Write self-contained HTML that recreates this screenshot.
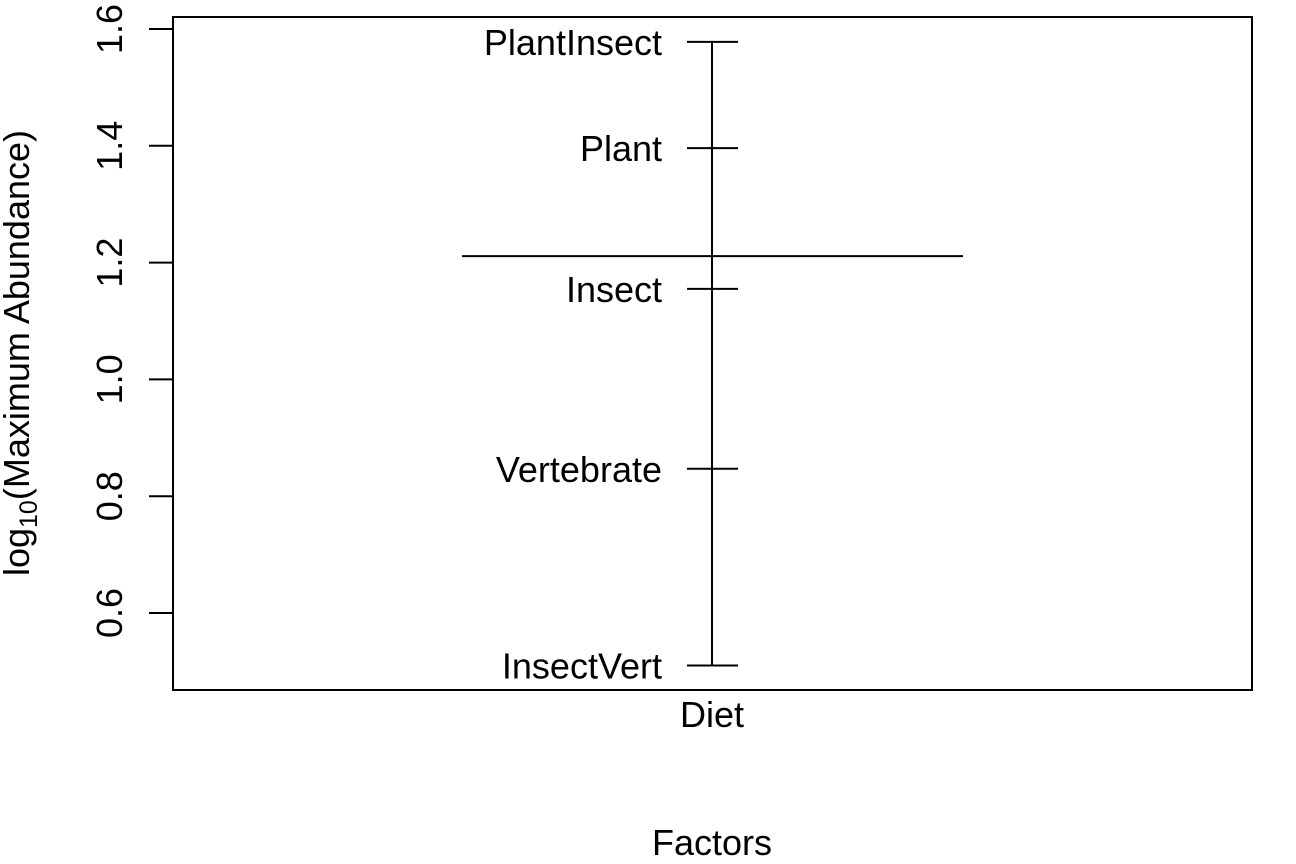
<!DOCTYPE html>
<html><head><meta charset="utf-8"><style>
html,body{margin:0;padding:0;background:#fff;}
svg{display:block;font-family:"Liberation Sans",sans-serif;}
</style></head><body>
<svg id="chart" width="1296" height="864" viewBox="0 0 1296 864"></svg>
<script>
const levels = ["PlantInsect","Plant","Insect","Vertebrate","InsectVert"];
const levelMeans = [1.578,1.396,1.155,0.847,0.510];
const grandMean = [1.211];
const yTicks = [0.6,0.8,1.0,1.2,1.4,1.6];
const yTickLabels = ["0.6","0.8","1.0","1.2","1.4","1.6"];
const factors = ["Diet"];

const NS="http://www.w3.org/2000/svg";
const svg=document.getElementById('chart');
const L=173,R=1252,T=17,B=690;
function y(v){return 29+(1.6-v)*584;}
function x(i){return 712+i*0;}
function mk(tag,attrs,parent){const e=document.createElementNS(NS,tag);for(const k in attrs)e.setAttribute(k,attrs[k]);(parent||svg).appendChild(e);return e;}

const box=mk('rect',{x:L,y:T,width:R-L,height:B-T,fill:'none',stroke:'#000','stroke-width':2});



yTicks.forEach((t,i)=>{
  const ln=mk('line',{x1:L-24,x2:L,y1:y(t),y2:y(t),stroke:'#000','stroke-width':2});
  
  
  const tx=mk('text',{x:0,y:0,'font-size':36,'text-anchor':'middle',transform:`translate(122,${y(t)}) rotate(-90)`});
  tx.textContent=yTickLabels[i];
  
  
});

factors.forEach((f,fi)=>{
  const cx=x(fi);
  const vl=mk('line',{x1:cx,x2:cx,y1:y(Math.max(...levelMeans)),y2:y(Math.min(...levelMeans)),stroke:'#000','stroke-width':2});
  
  
  levels.forEach((lv,i)=>{
    const tk=mk('line',{x1:cx-25,x2:cx+26,y1:y(levelMeans[i]),y2:y(levelMeans[i]),stroke:'#000','stroke-width':2});
    
    
    const tl=mk('text',{x:cx-50,y:y(levelMeans[i])+13,'font-size':36,'text-anchor':'end'});
    tl.textContent=lv;
    
    
  });
  const fl=mk('text',{x:cx,y:727,'font-size':36,'text-anchor':'middle'});
  fl.textContent=f;
  
  
});

const gm=mk('line',{x1:462,x2:963,y1:y(grandMean[0]),y2:y(grandMean[0]),stroke:'#000','stroke-width':2});



const xt=mk('text',{x:712,y:855,'font-size':36,'text-anchor':'middle'});
xt.textContent='Factors';



const yt=mk('text',{x:0,y:0,'font-size':36,'text-anchor':'middle',transform:'translate(29,353) rotate(-90)'});


const t1=mk('tspan',{},yt);t1.textContent='log';
const t2=mk('tspan',{'font-size':25,dy:8},yt);t2.textContent='10';
const t3=mk('tspan',{dy:-8},yt);t3.textContent='(Maximum Abundance)';
</script>
</body></html>
